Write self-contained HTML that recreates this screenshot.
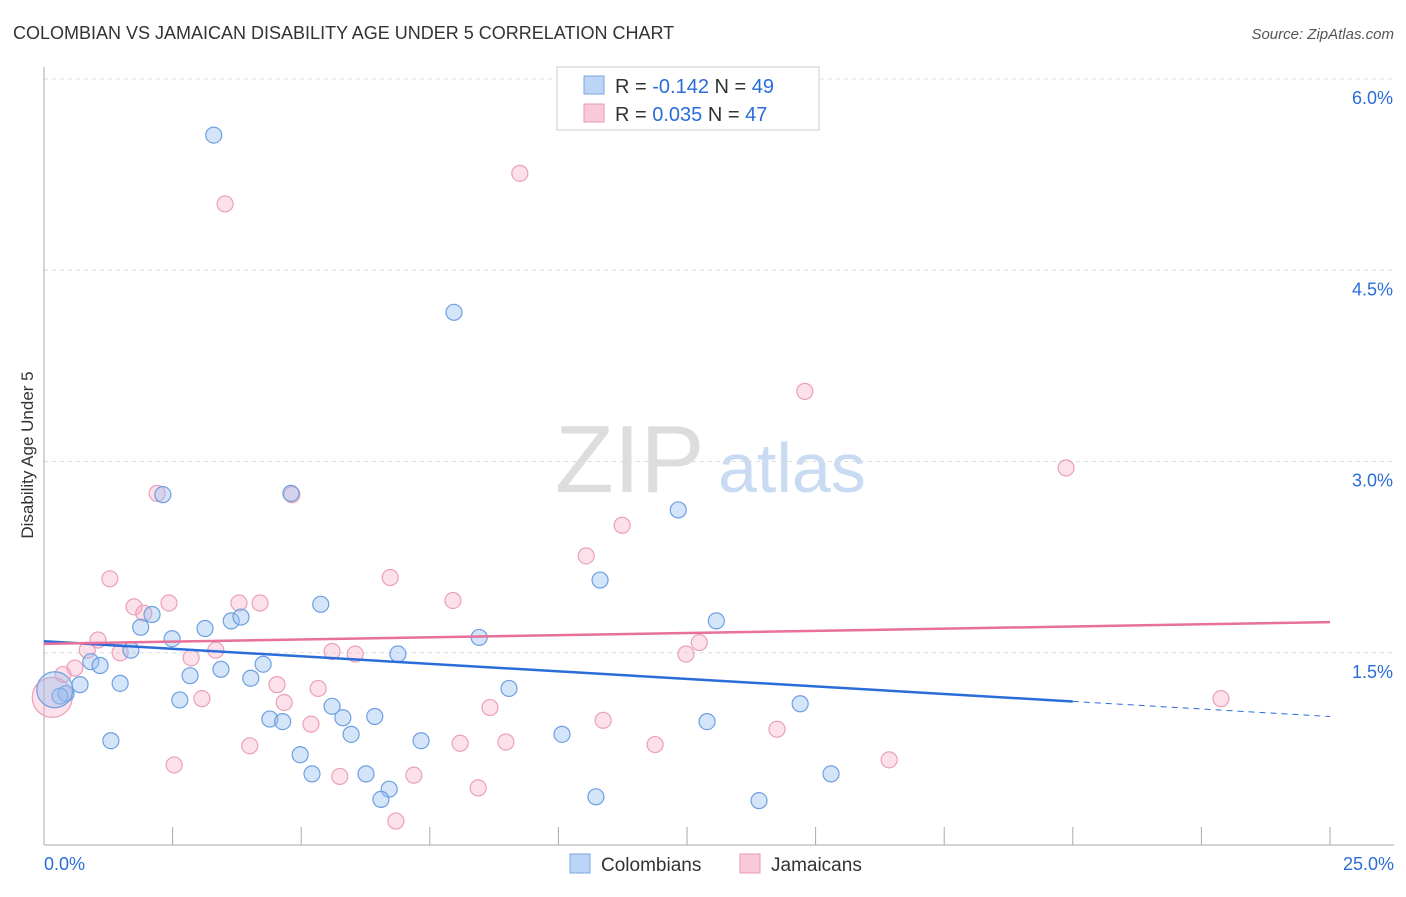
<!DOCTYPE html>
<html><head><meta charset="utf-8"><style>
body{margin:0;background:#fff;font-family:"Liberation Sans",sans-serif;}
svg text{font-family:"Liberation Sans",sans-serif;}
</style></head><body>
<svg id="chart" width="1406" height="892" viewBox="0 0 1406 892" xmlns="http://www.w3.org/2000/svg">
<text x="13" y="39" font-size="18" fill="#333">COLOMBIAN VS JAMAICAN DISABILITY AGE UNDER 5 CORRELATION CHART</text>
<text x="1394" y="39" font-size="15" fill="#555" text-anchor="end" font-style="italic">Source: ZipAtlas.com</text>
<text transform="translate(33,455) rotate(-90)" font-size="17" fill="#333" text-anchor="middle">Disability Age Under 5</text>
<g>
<text x="555" y="492" font-size="96" fill="#ddd" font-family="Liberation Serif,serif">ZIP</text>
<text x="718" y="492" font-size="70" fill="#c9dbf3">atlas</text>
</g>
<g id="grid"></g>
<g id="axes"></g>
<g id="points"></g>
<g id="lines"></g>
<g>
<rect x="557" y="67" width="262" height="63" fill="#fff" stroke="#ccc"/>
<rect x="584" y="76" width="20" height="18" fill="#bcd4f5" stroke="#7aa6e0"/>
<text x="615" y="93" font-size="20" fill="#333">R = <tspan fill="#2a6dd9">-0.142</tspan>   N = <tspan fill="#2a6dd9">49</tspan></text>
<rect x="584" y="104" width="20" height="18" fill="#f9c9d7" stroke="#e89ab2"/>
<text x="615" y="121" font-size="20" fill="#333">R =  <tspan fill="#2a6dd9">0.035</tspan>   N = <tspan fill="#2a6dd9">47</tspan></text>
</g>
<g>
<rect x="570" y="854" width="20" height="19" fill="#bcd4f5" stroke="#7aa6e0"/>
<text x="601" y="871" font-size="19" fill="#333">Colombians</text>
<rect x="740" y="854" width="20" height="19" fill="#f9c9d7" stroke="#e89ab2"/>
<text x="771" y="871" font-size="19" fill="#333">Jamaicans</text>
</g>
</svg>
<script>
const yTicks=[1.5,3.0,4.5,6.0];
const yTickLabels=["1.5%","3.0%","4.5%","6.0%"];
const xTickLabels=["0.0%","25.0%"];
const blueX=[3.30,7.97,2.31,4.80,12.33,10.81,5.38,13.07,2.10,1.88,3.13,3.64,3.83,2.49,8.46,1.69,6.88,0.91,1.09,4.26,3.44,0.70,1.48,2.84,4.02,9.04,5.60,2.64,0.43,0.31,0.21,4.39,4.64,5.81,6.43,5.97,10.07,12.89,14.70,1.30,7.33,4.98,5.21,6.26,15.30,6.71,6.55,10.73,13.90];
const blueY=[5.56,4.17,2.74,2.75,2.62,2.07,1.88,1.75,1.80,1.70,1.69,1.75,1.78,1.61,1.62,1.52,1.49,1.43,1.40,1.41,1.37,1.25,1.26,1.32,1.30,1.22,1.08,1.13,1.18,1.16,1.21,0.98,0.96,0.99,1.00,0.86,0.86,0.96,1.10,0.81,0.81,0.70,0.55,0.55,0.55,0.43,0.35,0.37,0.34];
const blueR=[8,8,8,8,8,8,8,8,8,8,8,8,8,8,8,8,8,8,8,8,8,8,8,8,8,8,8,8,8,8,18,8,8,8,8,8,8,8,8,8,8,8,8,8,8,8,8,8,8];
const pinkX=[3.52,9.25,14.79,19.87,2.20,4.82,11.24,10.54,1.28,6.73,7.95,2.43,3.79,4.20,1.75,1.94,1.05,12.74,12.48,0.84,1.48,3.34,5.60,6.05,2.86,0.60,0.37,4.53,5.33,4.67,3.07,8.67,22.88,10.87,5.19,14.25,4.00,8.09,8.98,11.88,2.53,16.43,7.19,5.75,8.44,6.84,0.16];
const pinkY=[5.02,5.26,3.55,2.95,2.75,2.74,2.50,2.26,2.08,2.09,1.91,1.89,1.89,1.89,1.86,1.81,1.60,1.58,1.49,1.52,1.50,1.52,1.51,1.49,1.46,1.38,1.33,1.25,1.22,1.11,1.14,1.07,1.14,0.97,0.94,0.90,0.77,0.79,0.80,0.78,0.62,0.66,0.54,0.53,0.44,0.18,1.15];
const pinkR=[8,8,8,8,8,8,8,8,8,8,8,8,8,8,8,8,8,8,8,8,8,8,8,8,8,8,8,8,8,8,8,8,8,8,8,8,8,8,8,8,8,8,8,8,8,8,20];
const blueTrend=[1.59,1.00];  // at x=0 and x=25
const pinkTrend=[1.57,1.74];
const blueSolidEnd=20;
const NS="http://www.w3.org/2000/svg";
const X0=44,X1=1330,Y0=844,PPY=127.5;
const xs=v=>X0+v/25*(X1-X0);
const ys=v=>Y0-v*PPY;
function mk(tag,attrs,parent){const e=document.createElementNS(NS,tag);for(const k in attrs)e.setAttribute(k,attrs[k]);parent.appendChild(e);return e;}
const grid=document.getElementById('grid'),axes=document.getElementById('axes'),pts=document.getElementById('points'),lines=document.getElementById('lines');
yTicks.forEach((t,i)=>{
  const l=mk('line',{x1:X0,x2:1394,y1:ys(t),y2:ys(t),stroke:'#ddd','stroke-dasharray':'4,4'},grid);
  
  
  const tx=mk('text',{x:1393,y:ys(t)+25,'font-size':18,fill:'#2a6dd9','text-anchor':'end'},axes);
  tx.textContent=yTickLabels[i];
  
  
});
const ax=mk('line',{x1:X0,x2:X0,y1:67,y2:845,stroke:'#aaa'},axes);


const bx=mk('line',{x1:X0,x2:1394,y1:845,y2:845,stroke:'#aaa'},axes);


for(let i=0;i<=10;i++){
  const t=mk('line',{x1:xs(i*2.5),x2:xs(i*2.5),y1:827,y2:845,stroke:'#aaa'},axes);
  
  
}
[[0,'start',44],[25,'end',1394]].forEach((d,i)=>{
  const t=mk('text',{x:d[2],y:870,'font-size':18,fill:'#2a6dd9','text-anchor':d[1]},axes);
  t.textContent=xTickLabels[i];
  
  
});
function dots(X,Y,R,fill,stroke,name){
  X.forEach((v,i)=>{
    const c=mk('circle',{cx:xs(v),cy:ys(Y[i]),r:R[i],fill:fill,stroke:stroke,'stroke-width':1.2},pts);
    
    
  });
}
dots(pinkX,pinkY,pinkR,'rgba(245,170,195,0.35)','#eba0b8','jamaican-point');
dots(blueX,blueY,blueR,'rgba(150,190,240,0.4)','#6d9fe0','colombian-point');
const bAt=x=>blueTrend[0]+(blueTrend[1]-blueTrend[0])*x/25;
const l1=mk('line',{x1:xs(0),y1:ys(bAt(0)),x2:xs(blueSolidEnd),y2:ys(bAt(blueSolidEnd)),stroke:'#2a6dd9','stroke-width':2.5},lines);


const l2=mk('line',{x1:xs(blueSolidEnd),y1:ys(bAt(blueSolidEnd)),x2:xs(25),y2:ys(bAt(25)),stroke:'#2a6dd9','stroke-width':1,'stroke-dasharray':'6,5'},lines);


const l3=mk('line',{x1:xs(0),y1:ys(pinkTrend[0]),x2:xs(25),y2:ys(pinkTrend[1]),stroke:'#e8709a','stroke-width':2.5},lines);


</script>
</body></html>
